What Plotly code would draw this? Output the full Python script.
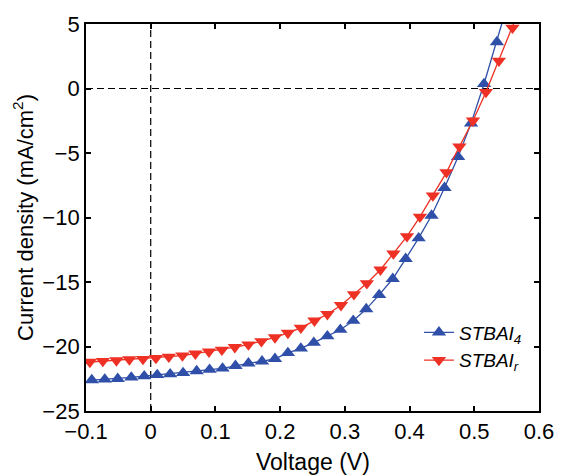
import plotly.graph_objects as go

# J–V curves of two perovskite devices (last point of each lies above the plotted range)
v_stbai4 = [-0.091, -0.071, -0.051, -0.030, -0.010, 0.010, 0.030, 0.050, 0.071, 0.091,
            0.111, 0.131, 0.151, 0.172, 0.192, 0.212, 0.232, 0.252, 0.273, 0.293,
            0.313, 0.333, 0.353, 0.374, 0.394, 0.414, 0.434, 0.454, 0.475, 0.495,
            0.515, 0.535, 0.555]
j_stbai4 = [-22.6, -22.55, -22.5, -22.4, -22.3, -22.2, -22.15, -22.05, -21.9, -21.8,
            -21.7, -21.5, -21.3, -21.15, -20.95, -20.5, -20.15, -19.7, -19.2, -18.7,
            -18.0, -17.1, -16.0, -14.75, -13.2, -11.6, -9.85, -7.7, -5.3, -2.7,
            0.35, 3.6, 7.15]

v_stbair = [-0.094, -0.074, -0.053, -0.033, -0.012, 0.008, 0.028, 0.049, 0.069, 0.090,
            0.110, 0.130, 0.151, 0.171, 0.192, 0.212, 0.232, 0.253, 0.273, 0.294,
            0.314, 0.334, 0.355, 0.375, 0.396, 0.416, 0.436, 0.457, 0.477, 0.498,
            0.518, 0.538, 0.559, 0.579]
j_stbair = [-21.2, -21.13, -21.08, -21.0, -20.97, -20.9, -20.8, -20.7, -20.56, -20.4,
            -20.26, -20.05, -19.85, -19.6, -19.3, -18.95, -18.55, -18.0, -17.5, -16.8,
            -15.95, -15.1, -14.05, -12.8, -11.46, -9.95, -8.3, -6.5, -4.5, -2.5,
            -0.28, 2.15, 4.7, 7.3]

x_ticks = [-0.1, 0, 0.1, 0.2, 0.3, 0.4, 0.5, 0.6]
x_labels = ["\u22120.1", "0", "0.1", "0.2", "0.3", "0.4", "0.5", "0.6"]
y_ticks = [-25, -20, -15, -10, -5, 0, 5]
y_labels = ["\u221225", "\u221220", "\u221215", "\u221210", "\u22125", "0", "5"]

BLUE = "#2f4fa8"
RED = "#ee3124"
FONT = "Liberation Sans, Arial, sans-serif"

fig = go.Figure()

# reference lines through the origin
fig.add_shape(type="line", xref="x", yref="paper", x0=0, x1=0, y0=0, y1=1,
              line=dict(color="black", width=1.2, dash="7px,4px"), layer="below")
fig.add_shape(type="line", xref="paper", yref="y", x0=0, x1=1, y0=0, y1=0,
              line=dict(color="black", width=1.2, dash="7px,4px"), layer="below")

fig.add_trace(go.Scatter(
    x=v_stbai4, y=j_stbai4, mode="lines+markers",
    name="<i>STBAI<sub>4</sub></i>",
    line=dict(color=BLUE, width=1.3),
    marker=dict(symbol="triangle-up", size=12.5, color=BLUE),
))
fig.add_trace(go.Scatter(
    x=v_stbair, y=j_stbair, mode="lines+markers",
    name="<i>STBAI<sub>r</sub></i>",
    line=dict(color=RED, width=1.3),
    marker=dict(symbol="triangle-down", size=12.5, color=RED),
))

axis_common = dict(
    showline=True, linecolor="black", linewidth=1.8, mirror="ticks",
    ticks="inside", ticklen=5, tickwidth=1.5, tickcolor="black",
    showgrid=False, zeroline=False,
    tickfont=dict(family=FONT, size=22, color="black"),
)

fig.update_xaxes(
    range=[-0.1, 0.6], tickmode="array", tickvals=x_ticks, ticktext=x_labels,
    **axis_common,
)
fig.update_yaxes(
    range=[-25, 5], tickmode="array", tickvals=y_ticks, ticktext=y_labels,
    title=dict(text="Current density (mA/cm<sup>2</sup>)",
               font=dict(family=FONT, size=22, color="black"), standoff=3),
    **axis_common,
)

# x-axis title placed just under the tick labels
fig.add_annotation(
    text="Voltage (V)", xref="paper", yref="paper", x=0.5, y=-0.131,
    xanchor="center", yanchor="middle", showarrow=False,
    font=dict(family=FONT, size=23, color="black"),
)

fig.update_layout(
    width=566, height=475,
    margin=dict(l=86, r=20, t=21, b=64),
    paper_bgcolor="white", plot_bgcolor="white",
    font=dict(family=FONT, color="black"),
    legend=dict(
        x=0.735, y=0.252, xanchor="left", yanchor="top",
        bgcolor="rgba(0,0,0,0)", borderwidth=0,
        font=dict(family=FONT, size=19, color="black"),
        tracegroupgap=0, itemsizing="trace",
    ),
    showlegend=True,
)

fig.write_html("out.html")
